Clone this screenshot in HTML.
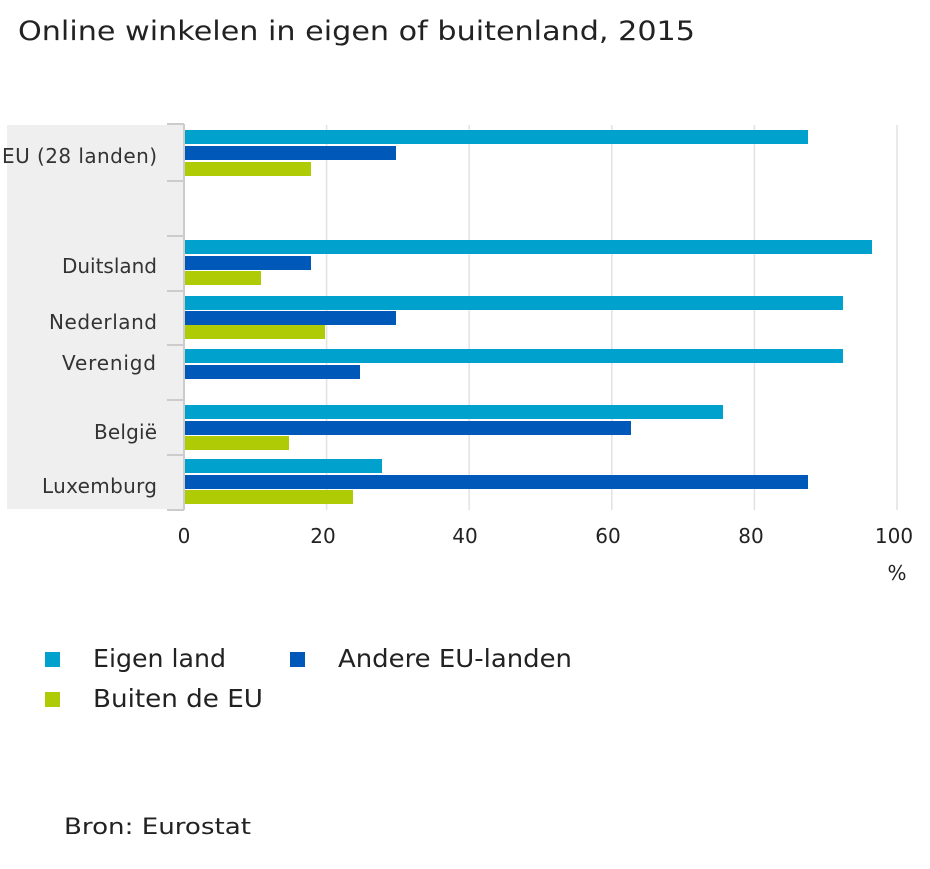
<!DOCTYPE html><html><head><style>body{margin:0;background:#fff}svg{display:block;font-family:"DejaVu Sans","Liberation Sans",sans-serif}</style></head><body>
<svg width="930" height="869" viewBox="0 0 930 869">
<text x="18" y="40" font-size="27" fill="#222" textLength="677" lengthAdjust="spacingAndGlyphs">Online winkelen in eigen of buitenland, 2015</text>
<rect x="7" y="125" width="177" height="384" fill="#efefef"/>
<g stroke="#e2e2e2" stroke-width="1.5">
<line x1="326.6" y1="125" x2="326.6" y2="510"/><line x1="469.2" y1="125" x2="469.2" y2="510"/><line x1="611.8" y1="125" x2="611.8" y2="510"/><line x1="754.4" y1="125" x2="754.4" y2="510"/><line x1="897" y1="125" x2="897" y2="510"/>
</g>
<g stroke="#ccc" stroke-width="2"><line x1="184" y1="124" x2="184" y2="510"/>
<line x1="167" y1="124" x2="184" y2="124"/><line x1="167" y1="181" x2="184" y2="181"/><line x1="167" y1="236" x2="184" y2="236"/><line x1="167" y1="291" x2="184" y2="291"/><line x1="167" y1="345" x2="184" y2="345"/><line x1="167" y1="400" x2="184" y2="400"/><line x1="167" y1="455" x2="184" y2="455"/><line x1="167" y1="510" x2="184" y2="510"/></g>
<g>
<rect x="185" y="130" width="623" height="14" fill="#00a1cd"/><rect x="185" y="146" width="211" height="14" fill="#0058b8"/><rect x="185" y="162" width="126" height="14" fill="#afcb05"/>
<rect x="185" y="240" width="687" height="14" fill="#00a1cd"/><rect x="185" y="256" width="126" height="14" fill="#0058b8"/><rect x="185" y="271" width="76" height="14" fill="#afcb05"/>
<rect x="185" y="296" width="658" height="14" fill="#00a1cd"/><rect x="185" y="311" width="211" height="14" fill="#0058b8"/><rect x="185" y="325" width="140" height="14" fill="#afcb05"/>
<rect x="185" y="349" width="658" height="14" fill="#00a1cd"/><rect x="185" y="365" width="175" height="14" fill="#0058b8"/>
<rect x="185" y="405" width="538" height="14" fill="#00a1cd"/><rect x="185" y="421" width="446" height="14" fill="#0058b8"/><rect x="185" y="436" width="104" height="14" fill="#afcb05"/>
<rect x="185" y="459" width="197" height="14" fill="#00a1cd"/><rect x="185" y="475" width="623" height="14" fill="#0058b8"/><rect x="185" y="490" width="168" height="14" fill="#afcb05"/>
</g>
<g font-size="20" fill="#333" lengthAdjust="spacingAndGlyphs">
<text x="2" y="163" textLength="155">EU (28 landen)</text><text x="62" y="273" textLength="95">Duitsland</text><text x="49" y="329" textLength="108">Nederland</text><text x="62" y="370" textLength="94">Verenigd</text><text x="94" y="439" textLength="63">België</text><text x="42" y="493" textLength="115">Luxemburg</text>
</g>
<g font-size="20" fill="#222" text-anchor="middle">
<text x="184" y="543">0</text><text x="323" y="543">20</text><text x="465" y="543">40</text><text x="608" y="543">60</text><text x="751" y="543">80</text><text x="894" y="543">100</text>
<text x="897" y="580">%</text></g>
<rect x="45" y="652" width="15" height="15" fill="#00a1cd"/><text x="93" y="667" font-size="25" fill="#222" textLength="133" lengthAdjust="spacingAndGlyphs">Eigen land</text>
<rect x="290" y="652" width="15" height="15" fill="#0058b8"/><text x="338" y="667" font-size="25" fill="#222" textLength="234" lengthAdjust="spacingAndGlyphs">Andere EU-landen</text>
<rect x="45" y="692" width="15" height="15" fill="#afcb05"/><text x="93" y="707" font-size="25" fill="#222" textLength="170" lengthAdjust="spacingAndGlyphs">Buiten de EU</text>
<text x="64" y="834" font-size="22" fill="#222" textLength="187" lengthAdjust="spacingAndGlyphs">Bron: Eurostat</text>
</svg></body></html>
